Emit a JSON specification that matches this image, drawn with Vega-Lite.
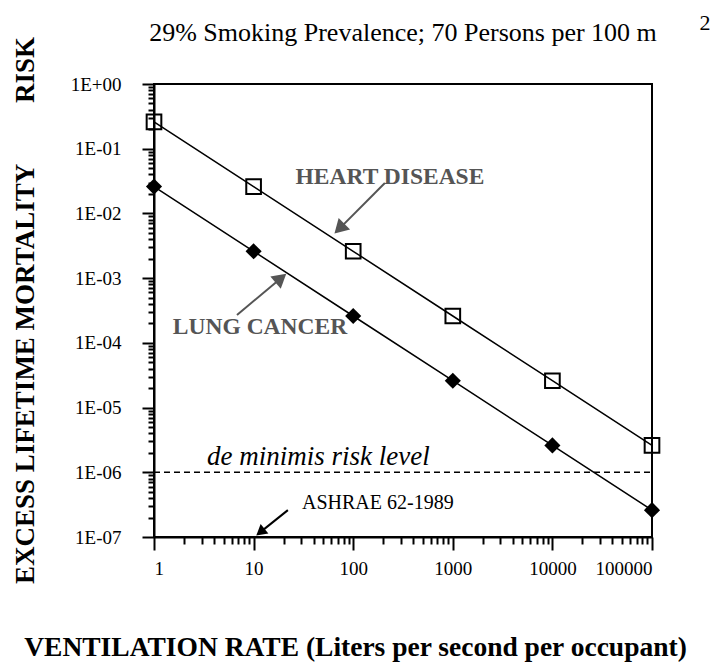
{
  "$schema": "https://vega.github.io/schema/vega-lite/v6.json",
  "width": 498,
  "height": 453,
  "autosize": {"type": "none"},
  "padding": {"left": 154, "top": 84, "right": 65, "bottom": 126},
  "background": "white",
  "config": {
    "view": {"stroke": "black", "strokeWidth": 2},
    "font": "Liberation Serif"
  },
  "title": {
    "text": "29% Smoking Prevalence; 70 Persons per 100 m",
    "font": "Liberation Serif",
    "fontSize": 26,
    "fontWeight": "normal",
    "color": "black",
    "anchor": "middle",
    "frame": "group",
    "baseline": "alphabetic",
    "offset": -55
  },
  "encoding": {
    "x": {
      "field": "rate",
      "type": "quantitative",
      "scale": {"type": "log", "domain": [1, 100000], "nice": false},
      "axis": {
        "values": [1,2,3,4,5,6,7,8,9,10,20,30,40,50,60,70,80,90,100,200,300,400,500,600,700,800,900,1000,2000,3000,4000,5000,6000,7000,8000,9000,10000,20000,30000,40000,50000,60000,70000,80000,90000,100000],
        "labelExpr": "abs(log(datum.value)/LN10 - round(log(datum.value)/LN10)) < 0.001 ? format(datum.value, 'd') : ''",
        "tickSize": {"condition": {"test": "abs(log(datum.value)/LN10 - round(log(datum.value)/LN10)) < 0.001", "value": 13}, "value": 7},
        "tickWidth": 2,
        "tickColor": "black",
        "domainColor": "black",
        "domainWidth": 2,
        "grid": false,
        "labelOverlap": false,
        "labelFont": "Liberation Serif",
        "labelFontSize": 19,
        "labelColor": "black",
        "labelPadding": 9,
        "title": "VENTILATION RATE (Liters per second per occupant)",
        "titleFont": "Liberation Serif",
        "titleFontSize": 27.5,
        "titleFontWeight": "bold",
        "titleColor": "black",
        "titleAlign": "center",
        "titleBaseline": "middle",
        "titleX": 201,
        "titleY": 110
      }
    },
    "y": {
      "field": "risk",
      "type": "quantitative",
      "scale": {"type": "log", "domain": [1e-7, 1], "nice": false},
      "axis": {
        "values": [1e-7,2e-7,3e-7,4e-7,5e-7,6e-7,7e-7,8e-7,9e-7,1e-6,2e-6,3e-6,4e-6,5e-6,6e-6,7e-6,8e-6,9e-6,1e-5,2e-5,3e-5,4e-5,5e-5,6e-5,7e-5,8e-5,9e-5,1e-4,2e-4,3e-4,4e-4,5e-4,6e-4,7e-4,8e-4,9e-4,1e-3,2e-3,3e-3,4e-3,5e-3,6e-3,7e-3,8e-3,9e-3,0.01,0.02,0.03,0.04,0.05,0.06,0.07,0.08,0.09,0.1,0.2,0.3,0.4,0.5,0.6,0.7,0.8,0.9,1],
        "labelExpr": "abs(log(datum.value)/LN10 - round(log(datum.value)/LN10)) < 0.001 ? (datum.value >= 0.5 ? '1E+00' : '1E-0' + round(-log(datum.value)/LN10)) : ''",
        "tickSize": {"condition": {"test": "abs(log(datum.value)/LN10 - round(log(datum.value)/LN10)) < 0.001", "value": 12}, "value": 6},
        "tickWidth": 2,
        "tickColor": "black",
        "domainColor": "black",
        "domainWidth": 2,
        "grid": false,
        "labelOverlap": false,
        "labelFont": "Liberation Serif",
        "labelFontSize": 19,
        "labelColor": "black",
        "labelPadding": 21,
        "title": "EXCESS LIFETIME MORTALITY\u00a0\u00a0\u00a0\u00a0\u00a0\u00a0\u00a0\u00a0\u00a0RISK",
        "titleFont": "Liberation Serif",
        "titleFontSize": 27,
        "titleFontWeight": "bold",
        "titleColor": "black",
        "titleAngle": -90,
        "titleAlign": "center",
        "titleBaseline": "middle",
        "titleX": -129,
        "titleY": 226
      }
    }
  },
  "layer": [
    {
      "data": {"values": [{"rate": 1, "rate2": 100000, "risk": 1e-6}]},
      "mark": {"type": "rule", "color": "black", "strokeWidth": 1.5, "strokeDash": [6, 4]},
      "encoding": {"x2": {"field": "rate2"}}
    },
    {
      "data": {"values": [
        {"series": "Heart Disease", "rate": 1, "risk": 0.26},
        {"series": "Heart Disease", "rate": 10, "risk": 0.026},
        {"series": "Heart Disease", "rate": 100, "risk": 0.0026},
        {"series": "Heart Disease", "rate": 1000, "risk": 0.00026},
        {"series": "Heart Disease", "rate": 10000, "risk": 0.000026},
        {"series": "Heart Disease", "rate": 100000, "risk": 0.0000026},
        {"series": "Lung Cancer", "rate": 1, "risk": 0.026},
        {"series": "Lung Cancer", "rate": 10, "risk": 0.0026},
        {"series": "Lung Cancer", "rate": 100, "risk": 0.00026},
        {"series": "Lung Cancer", "rate": 1000, "risk": 0.000026},
        {"series": "Lung Cancer", "rate": 10000, "risk": 0.0000026},
        {"series": "Lung Cancer", "rate": 100000, "risk": 0.00000026}
      ]},
      "layer": [
        {
          "mark": {"type": "line", "color": "black", "strokeWidth": 1.5},
          "encoding": {"detail": {"field": "series", "type": "nominal"}}
        },
        {
          "transform": [{"filter": "datum.series === 'Heart Disease'"}],
          "mark": {"type": "point", "shape": "square", "size": 215, "filled": false, "stroke": "black", "strokeWidth": 2, "opacity": 1}
        },
        {
          "transform": [{"filter": "datum.series === 'Lung Cancer'"}],
          "mark": {"type": "point", "shape": "diamond", "size": 260, "filled": true, "color": "black", "opacity": 1}
        }
      ]
    },
    {
      "data": {"values": [
        {"arrow": "Heart Disease", "rate": 208, "risk": 0.0295},
        {"arrow": "Heart Disease", "rate": 72.7, "risk": 0.00582},
        {"arrow": "Lung Cancer", "rate": 6.81, "risk": 0.000269},
        {"arrow": "Lung Cancer", "rate": 18.8, "risk": 0.001},
        {"arrow": "ASHRAE", "rate": 22.1, "risk": 0.00000026},
        {"arrow": "ASHRAE", "rate": 11.7, "risk": 0.000000119}
      ]},
      "layer": [
        {
          "mark": {"type": "line", "strokeWidth": 2},
          "encoding": {
            "detail": {"field": "arrow", "type": "nominal"},
            "color": {"field": "arrow", "type": "nominal", "scale": {"domain": ["Heart Disease", "Lung Cancer", "ASHRAE"], "range": ["#555555", "#555555", "#000000"]}, "legend": null}
          }
        },
        {
          "transform": [{"filter": "datum.arrow === 'Heart Disease' && datum.rate < 100"}],
          "mark": {"type": "point", "shape": "triangle-up", "size": 260, "filled": true, "color": "#555555", "opacity": 1, "angle": 225}
        },
        {
          "transform": [{"filter": "datum.arrow === 'Lung Cancer' && datum.rate > 10"}],
          "mark": {"type": "point", "shape": "triangle-up", "size": 260, "filled": true, "color": "#555555", "opacity": 1, "angle": 50}
        },
        {
          "transform": [{"filter": "datum.arrow === 'ASHRAE' && datum.rate < 20"}],
          "mark": {"type": "point", "shape": "triangle-up", "size": 150, "filled": true, "color": "#000000", "opacity": 1, "angle": 231}
        }
      ]
    },
    {
      "data": {"values": [
        {"label": "HEART DISEASE", "rate": 234, "risk": 0.0365},
        {"label": "LUNG CANCER", "rate": 11.6, "risk": 0.000175}
      ]},
      "mark": {"type": "text", "font": "Liberation Serif", "fontSize": 23.5, "fontWeight": "bold", "color": "#555555", "align": "center", "baseline": "middle"},
      "encoding": {"text": {"field": "label"}}
    },
    {
      "data": {"values": [{"label": "de minimis risk level", "rate": 3.4, "risk": 0.00000129}]},
      "mark": {"type": "text", "font": "Liberation Serif", "fontSize": 27, "fontStyle": "italic", "color": "black", "align": "left", "baseline": "alphabetic"},
      "encoding": {"text": {"field": "label"}}
    },
    {
      "data": {"values": [{"label": "ASHRAE 62-1989", "rate": 30.6, "risk": 0.000000334}]},
      "mark": {"type": "text", "font": "Liberation Serif", "fontSize": 20, "color": "black", "align": "left", "baseline": "middle"},
      "encoding": {"text": {"field": "label"}}
    },
    {
      "data": {"values": [{"label": "2", "rate": 340000, "risk": 6.83}]},
      "mark": {"type": "text", "font": "Liberation Serif", "fontSize": 22, "color": "black", "align": "center", "baseline": "alphabetic"},
      "encoding": {"text": {"field": "label"}}
    }
  ]
}
